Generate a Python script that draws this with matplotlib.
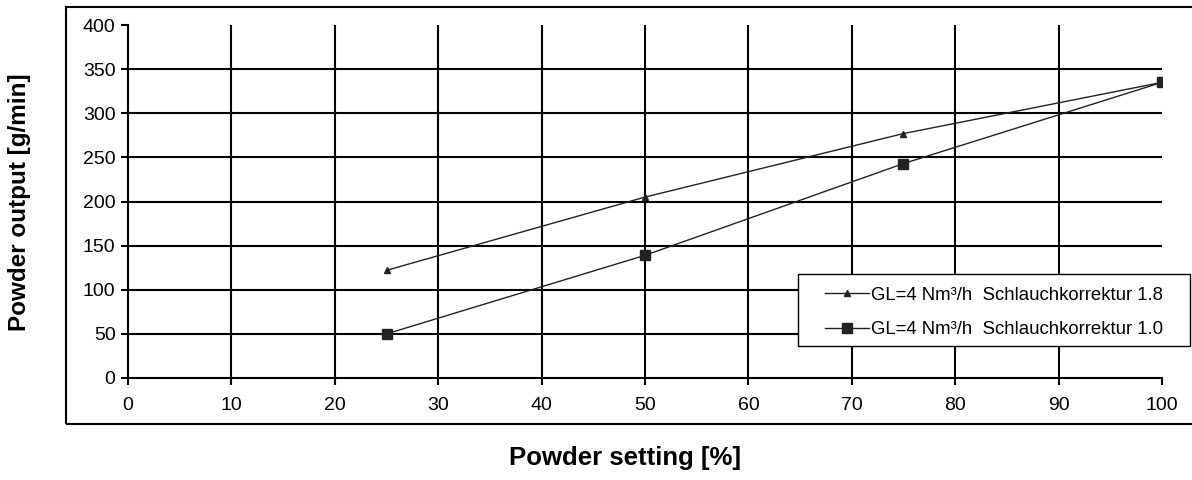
import matplotlib.pyplot as plt
from matplotlib.patches import Rectangle

plt.rcParams['font.family'] = ['Liberation Sans', 'DejaVu Sans']

# Powder setting [%] and powder output [g/min]
setting = [25, 50, 75, 100]
output_18 = [122, 205, 277, 335]
output_10 = [50, 139, 243, 335]
labels = ["GL=4 Nm³/h  Schlauchkorrektur 1.8", "GL=4 Nm³/h  Schlauchkorrektur 1.0"]

fig = plt.figure(figsize=(11.92, 4.8), dpi=100)
ax = fig.add_axes([0.1074, 0.2125, 0.8674, 0.7354])

# outer frame round the plot area
fig.patches.append(Rectangle((0.0554, 0.1167), 1.0, 0.8687, transform=fig.transFigure,
                             fill=False, edgecolor="black", linewidth=1.5))

# grid drawn by hand so that there is no line at y=400 and x=100
for x in range(10, 100, 10):
    ax.plot([x, x], [0, 400], color="black", lw=1.5, zorder=1)
for y in range(50, 400, 50):
    ax.plot([0, 100], [y, y], color="black", lw=1.5, zorder=1)

ax.plot(setting, output_18, color="#222222", lw=1, marker="^", markersize=5, label=labels[0], zorder=3)
ax.plot(setting, output_10, color="#222222", lw=1, marker="s", markersize=7.5, label=labels[1], zorder=3)

ax.set_xlim(0, 100)
ax.set_ylim(0, 400)
ax.set_xticks(range(0, 101, 10))
ax.set_yticks(range(0, 401, 50))
ax.tick_params(labelsize=14, length=5, width=1.5, direction="out")
ax.tick_params(axis="x", pad=9)
ax.tick_params(axis="y", pad=4)
ax.spines["top"].set_visible(False)
ax.spines["right"].set_visible(False)
ax.spines["left"].set_linewidth(1.5)
ax.spines["bottom"].set_linewidth(1.5)

# legend box drawn separately so the padding can be wider than tall
fig.patches.append(Rectangle((0.6695, 0.2792), 0.3289, 0.15, transform=fig.transFigure,
                             facecolor="white", edgecolor="black", linewidth=1.0, zorder=4))
leg = fig.legend(loc="upper left", bbox_to_anchor=(0.6921, 0.403), fontsize=13.4, frameon=False,
                 handlelength=2.35, borderaxespad=0, borderpad=0, labelspacing=0.95,
                 handletextpad=0.1)
leg.set_zorder(5)

fig.text(0.524, 0.046, "Powder setting [%]", ha="center", va="center", fontsize=18.5, fontweight="bold")
fig.text(0.016, 0.579, "Powder output [g/min]", ha="center", va="center", rotation=90,
         fontsize=17.5, fontweight="bold")

fig.savefig("out.png", dpi=100)
